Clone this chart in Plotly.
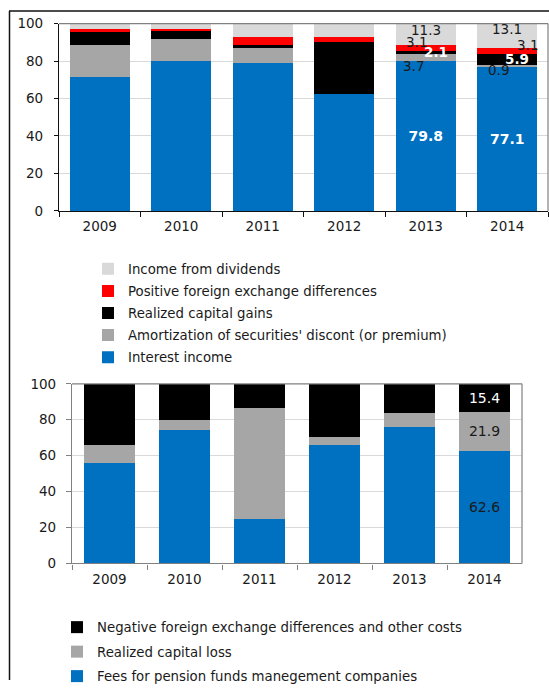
import plotly.graph_objects as go

# ---------------- data ----------------
years = ["2009", "2010", "2011", "2012", "2013", "2014"]

# top chart: structure of income (%)
interest_income = [71.4, 80.0, 78.7, 62.5, 79.8, 77.1]
amortization = [17.1, 11.6, 8.4, 0.0, 3.7, 0.9]
capital_gains = [7.7, 4.4, 1.4, 27.5, 2.1, 5.9]
fx_positive = [1.0, 1.1, 4.1, 2.6, 3.1, 3.1]
dividends = [2.8, 2.9, 7.4, 7.4, 11.3, 13.1]

# bottom chart: structure of costs (%)
fees = [55.8, 74.2, 24.9, 65.7, 76.2, 62.6]
capital_loss = [10.3, 5.6, 61.6, 4.9, 7.4, 21.9]
fx_negative = [33.9, 20.2, 13.5, 29.4, 16.4, 15.4]

y_ticks = [0, 20, 40, 60, 80, 100]
labeled_years = ["2013", "2014"]

# ---------------- styles ----------------
W, H = 549, 692
FONT = "DejaVu Sans"
TXT = "#1a1a1a"
BLUE = "#0070C0"
GRAY = "#A6A6A6"
LGRAY = "#D9D9D9"
RED = "#FF0000"
BLACK = "#000000"

def px_x(p):
    return p / W

def px_y(p):
    return 1 - p / H

fig = go.Figure()

top_series = [
    ("Interest income", interest_income, BLUE),
    ("Amortization of securities' discont (or premium)", amortization, GRAY),
    ("Realized capital gains", capital_gains, BLACK),
    ("Positive foreign exchange differences", fx_positive, RED),
    ("Income from dividends", dividends, LGRAY),
]
n_top = len(top_series)
for k, (name, vals, col) in enumerate(top_series):
    kw = {}
    if name == "Interest income":
        kw = dict(
            text=[f"{v:.1f}" if y in labeled_years else "" for y, v in zip(years, vals)],
            textposition="inside", insidetextanchor="middle",
            textfont=dict(family=FONT, size=14, color="white", weight="bold"),
            constraintext="none",
        )
    fig.add_trace(go.Bar(
        x=years, y=vals, name=name, marker=dict(color=col, line=dict(width=0)),
        width=0.735, xaxis="x", yaxis="y", legend="legend", legendgroup="t" + name,
        legendrank=n_top - k, hoverinfo="skip", **kw))

bottom_series = [
    ("Fees for pension funds manegement companies", fees, BLUE, TXT),
    ("Realized capital loss", capital_loss, GRAY, TXT),
    ("Negative foreign exchange differences and other costs", fx_negative, BLACK, "white"),
]
n_bot = len(bottom_series)
for k, (name, vals, col, tcol) in enumerate(bottom_series):
    fig.add_trace(go.Bar(
        x=years, y=vals, name=name, marker=dict(color=col, line=dict(width=0)),
        width=0.68, xaxis="x2", yaxis="y2", legend="legend2", legendgroup="b" + name,
        legendrank=n_bot - k,
        text=[f"{v:.1f}" if y in labeled_years[-1:] else "" for y, v in zip(years, vals)],
        textposition="inside", insidetextanchor="middle", constraintext="none",
        textfont=dict(family=FONT, size=14, color=tcol), hoverinfo="skip"))

# ---------- small labels of the top chart (2013, 2014) ----------
label_offsets = {
    "2013": {"amort": (-12, -8, TXT, "normal"), "gains": (10, 0, "white", "bold"),
             "fx": (-9, 6, TXT, "normal"), "div": (0, 4, TXT, "normal")},
    "2014": {"amort": (-9, -4, TXT, "normal"), "gains": (10, 0, "white", "bold"),
             "fx": (20, 6, TXT, "normal"), "div": (0, 7, TXT, "normal")},
}
annotations = []
for i, yr in enumerate(years):
    if yr not in label_offsets:
        continue
    base = interest_income[i]
    for key, vals in (("amort", amortization), ("gains", capital_gains),
                      ("fx", fx_positive), ("div", dividends)):
        v = vals[i]
        xs, ys, col, wt = label_offsets[yr][key]
        annotations.append(dict(
            x=i, y=base + v / 2, xref="x", yref="y", text=f"{v:.1f}",
            showarrow=False, xshift=xs, yshift=ys,
            font=dict(family=FONT, size=13.5, color=col, weight=wt)))
        base += v

# ---------------- borders ----------------
shapes = [
    dict(type="line", xref="paper", yref="paper", x0=px_x(9), x1=1, y0=px_y(3), y1=px_y(3),
         line=dict(color="#111", width=1.5)),
    dict(type="line", xref="paper", yref="paper", x0=px_x(9.5), x1=px_x(9.5), y0=0, y1=px_y(3),
         line=dict(color="#111", width=1.5)),
]
for xr, yr_ in (("x", "y"), ("x2", "y2")):
    shapes.append(dict(type="line", xref=f"{xr} domain", yref=f"{yr_} domain",
                       x0=0, x1=1, y0=1, y1=1, line=dict(color="#808080", width=1.2)))
    shapes.append(dict(type="line", xref=f"{xr} domain", yref=f"{yr_} domain",
                       x0=1, x1=1, y0=0, y1=1, line=dict(color="#808080", width=1.2)))

tickfont = dict(family=FONT, size=13.5, color=TXT)

fig.update_layout(
    width=W, height=H, margin=dict(l=0, r=0, t=0, b=0),
    paper_bgcolor="white", plot_bgcolor="white",
    barmode="stack", showlegend=True,
    font=dict(family=FONT, color=TXT),
    xaxis=dict(type="category", domain=[px_x(59), px_x(548)], anchor="y", tickfont=tickfont,
               showline=True, linecolor="#111", linewidth=1.2,
               ticks="outside", tickson="boundaries", ticklen=5, tickcolor="#111",
               ticklabelstandoff=3, showgrid=False, fixedrange=True),
    yaxis=dict(domain=[px_y(209), px_y(16)], anchor="x", range=[0, 100],
               tickvals=y_ticks, tickfont=tickfont,
               showline=True, linecolor="#111", linewidth=1.2,
               ticks="outside", ticklen=4, tickcolor="#111", ticklabelstandoff=8,
               showgrid=True, gridcolor="#D9D9D9", gridwidth=1, zeroline=False,
               fixedrange=True),
    xaxis2=dict(type="category", domain=[px_x(72), px_x(522)], anchor="y2", tickfont=tickfont,
                showline=True, linecolor="#808080", linewidth=1.2,
                ticks="outside", tickson="boundaries", ticklen=5, tickcolor="#808080",
                ticklabelstandoff=3, showgrid=False, fixedrange=True),
    yaxis2=dict(domain=[px_y(572), px_y(387)], anchor="x2", range=[0, 100],
                tickvals=y_ticks, tickfont=tickfont,
                showline=True, linecolor="#808080", linewidth=1.2,
                ticks="outside", ticklen=5, tickcolor="#808080", ticklabelstandoff=7,
                showgrid=True, gridcolor="#D9D9D9", gridwidth=1, zeroline=False,
                fixedrange=True),
    legend=dict(x=px_x(88), y=px_y(253), xanchor="left", yanchor="top",
                traceorder="grouped", tracegroupgap=1.8, bgcolor="rgba(0,0,0,0)",
                font=dict(family=FONT, size=13.3, color=TXT)),
    legend2=dict(x=px_x(57), y=px_y(622), xanchor="left", yanchor="top",
                 traceorder="grouped", tracegroupgap=4.2,
                 bgcolor="rgba(0,0,0,0)",
                 font=dict(family=FONT, size=13.3, color=TXT)),
    annotations=annotations,
    shapes=shapes,
)

fig.write_html(
    "out.html",
    config={"displayModeBar": False},
    post_script="document.body.style.margin='0';document.body.style.overflow='hidden';",
)
